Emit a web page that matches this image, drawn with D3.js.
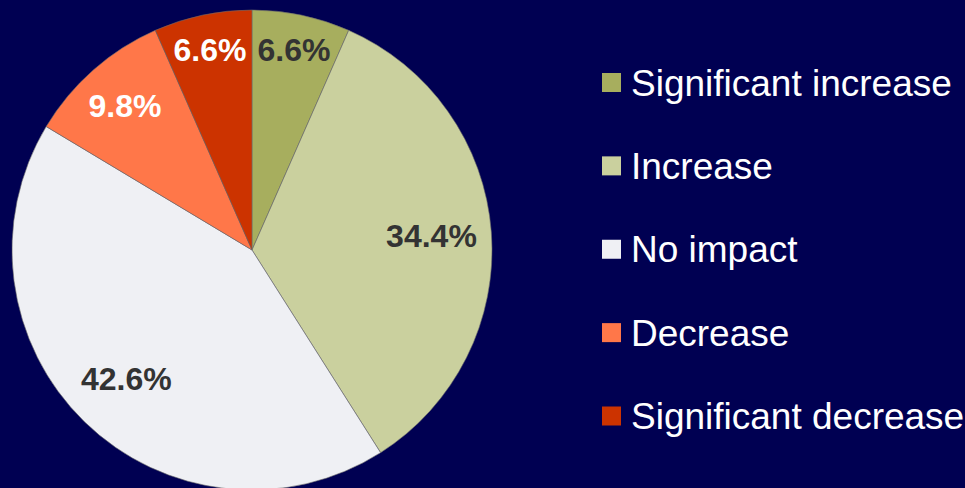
<!DOCTYPE html>
<html>
<head>
<meta charset="utf-8">
<script src="https://cdn.jsdelivr.net/npm/d3@7/dist/d3.min.js"></script>
<style>
  html, body { margin: 0; padding: 0; background: #000052; }
  svg { display: block; }
</style>
</head>
<body>
<svg id="chart" width="965" height="488"></svg>
<script>
// Share of responses by expected impact
const categories = ["Significant increase", "Increase", "No impact", "Decrease", "Significant decrease"];
const values = [6.6, 34.4, 42.6, 9.8, 6.6];
const colors = ["#A7AE5E", "#CAD09E", "#EFF0F4", "#FF7749", "#CC3300"];
const labelColors = ["#333333", "#333333", "#333333", "#FFFFFF", "#FFFFFF"];

const width = 965, height = 488;
const cx = 252, cy = 250, R = 240;

const svg = d3.select("#chart");
svg.append("rect").attr("width", width).attr("height", height).attr("fill", "#000052");

const data = categories.map((c, i) => ({ name: c, value: values[i], color: colors[i], labelColor: labelColors[i] }));

const pie = d3.pie().value(d => d.value).sort(null);
const arcs = pie(data);

const arc = d3.arc().innerRadius(0).outerRadius(R);
const g = svg.append("g").attr("transform", `translate(${cx},${cy})`);

g.selectAll("path.slice")
  .data(arcs)
  .enter().append("path")
  .attr("class", "slice")
  .attr("d", arc)
  .attr("fill", d => d.data.color)
  .attr("stroke", "#6b6b6b")
  .attr("stroke-width", 0.6);

// Narrow slices carry their labels nearer the rim
const labelArc = d => {
  const share = (d.endAngle - d.startAngle) / (2 * Math.PI);
  const r = share < 0.08 ? R * 0.85 : (share < 0.12 ? R * 0.8 : R * 0.75);
  return d3.arc().innerRadius(r).outerRadius(r).centroid(d);
};

g.selectAll("text.lbl")
  .data(arcs)
  .enter().append("text")
  .attr("class", "lbl")
  .attr("x", d => labelArc(d)[0])
  .attr("y", d => labelArc(d)[1])
  .attr("text-anchor", "middle")
  .attr("dy", "0.34em")
  .attr("font-family", "Liberation Sans, Arial, sans-serif")
  .attr("font-weight", "bold")
  .attr("font-size", 32)
  .attr("fill", d => d.data.labelColor)
  .text(d => d.data.value.toFixed(1) + "%");

// Legend
const legendY = d3.scalePoint().domain(categories).range([82.5, 416]);
const legend = svg.append("g");
const items = legend.selectAll("g.item")
  .data(data)
  .enter().append("g")
  .attr("class", "item")
  .attr("transform", d => `translate(602,${legendY(d.name)})`);

items.append("rect")
  .attr("x", 0).attr("y", -9.5)
  .attr("width", 19).attr("height", 19)
  .attr("fill", d => d.color);

items.append("text")
  .attr("x", 29)
  .attr("y", 13)
  .attr("font-family", "Liberation Sans, Arial, sans-serif")
  .attr("font-size", 37)
  .attr("fill", "#FFFFFF")
  .text(d => d.name);
</script>
</body>
</html>
